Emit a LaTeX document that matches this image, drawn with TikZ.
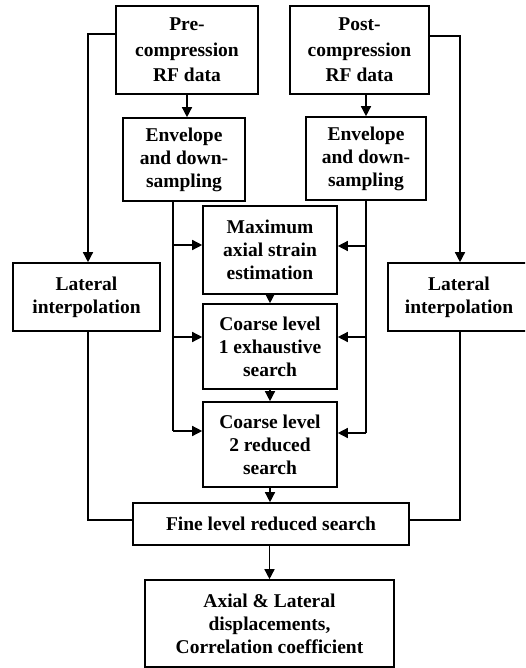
\documentclass[tikz,border=0pt]{standalone}
\usepackage{fontspec}
\setmainfont{Liberation Serif}
\usetikzlibrary{arrows.meta}
\begin{document}
\begin{tikzpicture}[x=1pt,y=-1pt,
  line width=1.4pt,
  box/.style={draw, line width=1.6pt, align=center, inner sep=0pt,
    font=\fontsize{19.5}{23}\selectfont\bfseries},
  tall/.style={font=\fontsize{19.5}{25.5}\selectfont\bfseries},
  flow/.style={-{Triangle[length=10pt,width=10pt]}}]
\clip (0,0) rectangle (525,668);
\fill[white] (0,0) rectangle (525,668);

% input data
\node[box, tall, minimum width=142pt, minimum height=88pt] (pre) at (187,50) {Pre-\\compression\\RF data};
\node[box, tall, minimum width=139pt, minimum height=88pt] (post) at (359.5,50) {Post-\\compression\\RF data};

% envelope detection
\node[box, minimum width=122pt, minimum height=83pt] (preenv) at (184,159.5) {Envelope\\and down-\\sampling};
\node[box, minimum width=120pt, minimum height=83pt] (postenv) at (366,158.5) {Envelope\\and down-\\sampling};

% lateral interpolation branches
\node[box, minimum width=147pt, minimum height=68pt] (latL) at (86.5,297) {Lateral\\interpolation};
\node[box, minimum width=142pt, minimum height=68pt] (latR) at (459,297) {Lateral\\interpolation};

% axial search chain
\node[box, minimum width=134pt, minimum height=88pt] (maxax) at (270,250) {Maximum\\axial strain\\estimation};
\node[box, minimum width=134pt, minimum height=85pt] (cl1) at (270,346.5) {Coarse level\\1 exhaustive\\search};
\node[box, minimum width=134pt, minimum height=85pt] (cl2) at (270,444.5) {Coarse level\\2 reduced\\search};
\node[box, minimum width=276pt, minimum height=42pt] (fine) at (271,524) {Fine level reduced search};
\node[box, minimum width=249pt, minimum height=87pt] (out) at (269.5,623.5) {Axial \& Lateral\\displacements,\\Correlation coefficient};

% data to envelope
\draw[flow] (pre.south) -- (pre.south |- preenv.north);
\draw[flow] (postenv.north |- post.south) -- (postenv.north);

% data to lateral interpolation
\coordinate (lT) at (88,34);
\coordinate (rT) at (460,36);
\draw[flow] (lT -| pre.west) -- (lT) -- (lT |- latL.north);
\draw[flow] (rT -| post.east) -- (rT) -- (rT |- latR.north);

% left trunk from pre-compression envelope
\coordinate (lA) at (173,245);
\coordinate (lB) at (173,337);
\coordinate (lC) at (173,431);
\draw (lA |- preenv.south) -- (lC);
\draw[flow] (lA) -- (lA -| maxax.west);
\draw[flow] (lB) -- (lB -| cl1.west);
\draw[flow] (lC) -- (lC -| cl2.west);

% right trunk from post-compression envelope
\coordinate (rA) at (366,246);
\coordinate (rB) at (366,337);
\coordinate (rC) at (366,433);
\draw (postenv.south) -- (rC);
\draw[flow] (rA) -- (rA -| maxax.east);
\draw[flow] (rB) -- (rB -| cl1.east);
\draw[flow] (rC) -- (rC -| cl2.east);

% chain
\draw[flow] (maxax.south) -- (cl1.north);
\draw[flow] (cl1.south) -- (cl2.north);
\draw[flow] (cl2.south) -- (cl2.south |- fine.north);
\draw[flow] (fine.south -| out.north) -- (out.north);

% lateral results into fine search
\coordinate (lF) at (88,520);
\coordinate (rF) at (460,520);
\draw (latL.south -| lF) -- (lF) -- (lF -| fine.west);
\draw (latR.south -| rF) -- (rF) -- (rF -| fine.east);
\end{tikzpicture}
\end{document}
